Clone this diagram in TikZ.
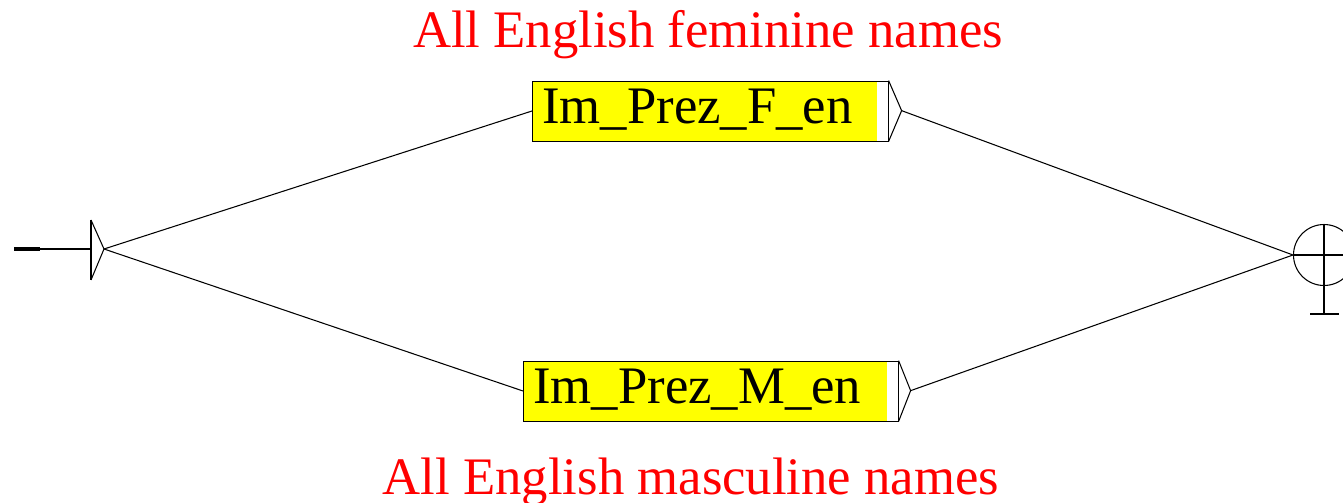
\documentclass[tikz,border=0pt]{standalone}
\usepackage{fontspec}
\setmainfont{Liberation Serif}
\usepackage{xcolor}
\usepackage{tikz}
\usetikzlibrary{positioning,calc}
\definecolor{boxyellow}{RGB}{255,255,0}
\definecolor{commentred}{RGB}{255,0,0}

\tikzset{
  box/.style={draw, fill=boxyellow, font=\fontsize{30}{36}\selectfont,
    minimum height=1.2cm, inner xsep=0.2cm, inner ysep=0pt,
    text height=0.8cm, text depth=0.28cm, align=left,
    path picture={\fill[white] ([xshift=-0.22cm]path picture bounding box.north east)
      rectangle (path picture bounding box.south east);}},
  comment/.style={text=commentred, font=\fontsize{30}{36}\selectfont, anchor=base},
  wire/.style={line width=0.6pt},
}

\begin{document}
\begin{tikzpicture}[x=0.02cm, y=-0.02cm]
    \useasboundingbox (0,0) rectangle (1343,503);

    % initial state
    \coordinate (inL) at (14,249);
    \coordinate (inB) at (91,249);
    \coordinate (inTip) at (104,249);
    \draw[line width=2pt] (inL) -- (40,249);
    \draw[wire] (40,249) -- (inB);
    \draw[line width=1.2pt] (91,220) -- (91,280);
    \draw[wire] (91,220) -- (inTip) -- (91,280);

    % boxes
    \node[box, text width=6.72cm, anchor=west] (fem) at (532,111) {Im\_Prez\_F\_en};
    \node[box, text width=7.1cm, anchor=west] (masc) at (523,391) {Im\_Prez\_M\_en};
    \draw[wire] (fem.north east) -- ++(13,30) coordinate (femOut) -- (fem.south east);
    \draw[wire] (masc.north east) -- ++(12,30) coordinate (mascOut) -- (masc.south east);

    % comments
    \node[comment] (femTxt) at (708,48) {All English feminine names};
    \node[comment] (mascTxt) at (691,494) {All English masculine names};

    % final state
    \node[draw, circle, minimum size=1.22cm, inner sep=0pt, wire] (fin) at (1324,255) {};
    \draw[wire] (fin.west) -- (1343,255);
    \draw[wire] (fin.north) -- (1324,314);
    \draw[wire] (1310,314) -- (1339,314);

    % transitions
    \draw[wire] (inTip) -- (fem.west);
    \draw[wire] (inTip) -- (masc.west);
    \draw[wire] (femOut) -- (fin.west);
    \draw[wire] (mascOut) -- (fin.west);
\end{tikzpicture}
\end{document}
